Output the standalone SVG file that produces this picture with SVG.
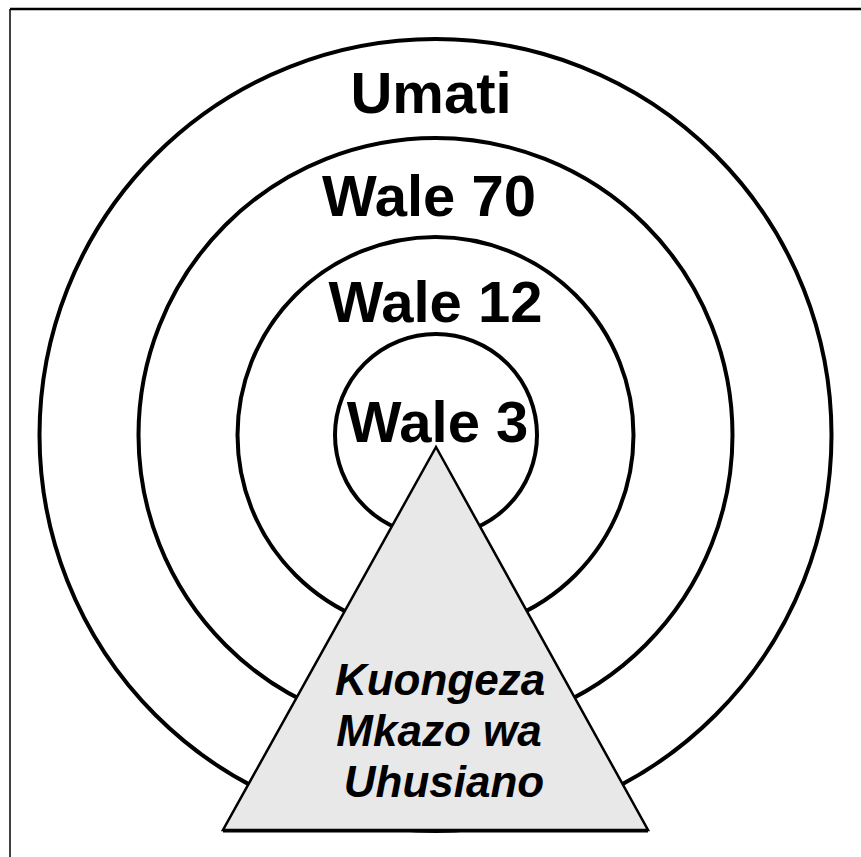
<svg xmlns="http://www.w3.org/2000/svg" width="861" height="857" viewBox="0 0 861 857">
<style>
.ring{fill:none;stroke:#000;stroke-width:4}
.lbl{font-family:"Liberation Sans",Arial,sans-serif;font-weight:bold;font-size:58px;text-anchor:middle;fill:#000}
.tri{font-family:"Liberation Sans",Arial,sans-serif;font-weight:bold;font-style:italic;font-size:44px;text-anchor:middle;fill:#000}
</style>
<rect width="861" height="857" fill="#fff"/>
<g id="frame">
<line x1="10" y1="9" x2="861" y2="9" stroke="#000" stroke-width="2.5"/>
<line x1="10" y1="9" x2="10" y2="857" stroke="#000" stroke-width="1.5"/>
</g>
<g id="ring-umati">
<circle class="ring" cx="435.5" cy="435" r="396"/>
<text class="lbl" x="431" y="113">Umati</text>
</g>
<g id="ring-wale70">
<circle class="ring" cx="435.5" cy="435" r="297"/>
<text class="lbl" x="429" y="216">Wale 70</text>
</g>
<g id="ring-wale12">
<circle class="ring" cx="435.5" cy="435" r="198"/>
<text class="lbl" x="435.5" y="322">Wale 12</text>
</g>
<g id="ring-wale3">
<circle class="ring" cx="436" cy="435" r="101"/>
<text class="lbl" x="437.5" y="442">Wale 3</text>
</g>
<g id="triangle">
<polygon points="436,447 223,830 648,830" fill="#e8e8e8" stroke="#000" stroke-width="2.5" stroke-linejoin="miter"/>
<line x1="223" y1="831" x2="648" y2="831" stroke="#000" stroke-width="3"/>
<text class="tri" x="440" y="695">Kuongeza</text>
<text class="tri" x="439" y="746">Mkazo wa</text>
<text class="tri" x="444" y="797">Uhusiano</text>
</g>
<g id="connectors"/>
</svg>
